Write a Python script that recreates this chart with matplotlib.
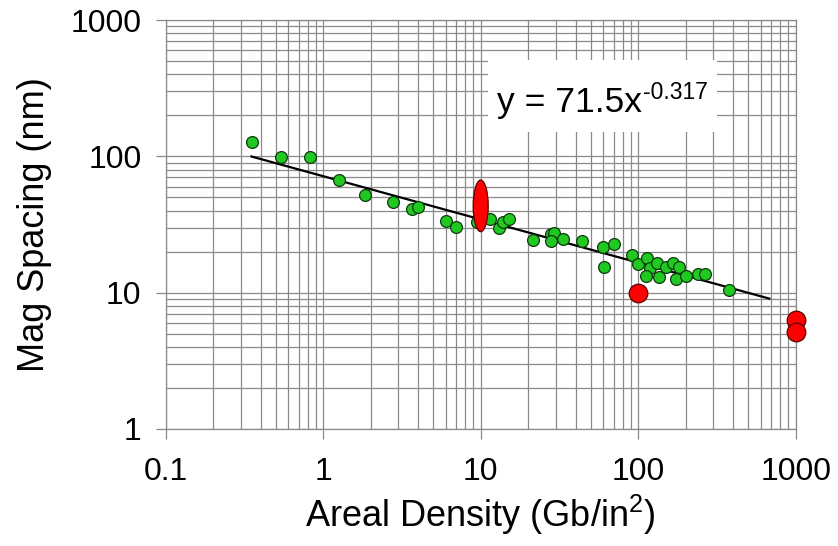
import matplotlib
matplotlib.use("Agg")
import matplotlib.pyplot as plt
import numpy as np
from matplotlib.patches import Ellipse, Rectangle
from matplotlib.transforms import ScaledTranslation

plt.rcParams['font.family'] = ['Liberation Sans', 'DejaVu Sans']
plt.rcParams['mathtext.fontset'] = 'custom'
plt.rcParams['mathtext.rm'] = 'Liberation Sans'
plt.rcParams['mathtext.default'] = 'regular'

# ---- data ----
green_x = [0.352, 0.537, 0.824, 1.26, 1.83, 2.79, 3.68, 4.02, 6.0, 6.97,
           9.44, 11.5, 13.1, 13.9, 15.1, 21.6, 27.8, 29.2, 27.9, 33.4,
           44.0, 59.6, 70.2, 60.7, 91.8, 99.3, 113, 119, 112, 131,
           135.5, 149.5, 167, 182, 174, 201, 241, 265, 376]
green_y = [128, 99.5, 99.5, 67, 52.4, 46, 40.9, 42.7, 33.6, 30.5,
           33.2, 34.6, 30.0, 33.2, 34.9, 24.4, 27.0, 27.3, 23.9, 24.6,
           24.1, 21.8, 22.6, 15.4, 18.9, 16.2, 17.9, 15.1, 13.3, 16.4,
           13.1, 15.5, 16.4, 15.4, 12.5, 13.3, 13.6, 13.6, 10.5]
red_x = [100, 1000, 1000]
red_y = [10, 6.3, 5.15]
range_x = 10
range_y = [28, 67]
fit_a = 71.5
fit_b = -0.317
fit_x_range = [0.35, 680]
eq_main = 'y = 71.5x'
eq_sup = '-0.317'
x_ticks = [0.1, 1, 10, 100, 1000]
x_tick_labels = ['0.1', '1', '10', '100', '1000']
y_ticks = [1, 10, 100, 1000]
y_tick_labels = ['1', '10', '100', '1000']

W, H = 838, 546
L, R, T, B = 165.7, 795.7, 20.0, 429.0
fig = plt.figure(figsize=(W / 100, H / 100), dpi=100)
ax = fig.add_axes([L / W, 1 - B / H, (R - L) / W, (B - T) / H])
ax.set_xscale('log')
ax.set_yscale('log')
ax.set_xlim(0.1, 1000)
ax.set_ylim(1, 1000)


def afx(px):
    return (px - L) / (R - L)


def afy(py):
    return (B - py) / (B - T)


gcol = '#8a8a8a'
ax.grid(True, which='both', color=gcol, linewidth=0.9, zorder=0)
ax.set_axisbelow(True)
for s in ax.spines.values():
    s.set_color(gcol)
    s.set_linewidth(0.9)
ax.set_xticks(x_ticks)
ax.set_xticklabels(x_tick_labels)
ax.set_yticks(y_ticks)
ax.set_yticklabels(y_tick_labels)
ax.tick_params(which='major', direction='out', length=7.5, width=0.9, color=gcol,
               labelsize=23)
ax.tick_params(axis='y', pad=10)
ax.tick_params(axis='x', pad=12.5)
ax.tick_params(which='minor', length=0)

# equation box
ax.add_patch(Rectangle((afx(488), afy(132)), afx(717) - afx(488), afy(60) - afy(132),
                       transform=ax.transAxes, facecolor='white', edgecolor='none', zorder=1))
t1 = ax.text(afx(497), afy(111.7), eq_main, transform=ax.transAxes, ha='left',
             va='baseline', fontsize=25.5, zorder=2)
ax.annotate(eq_sup, xy=(1, 1), xycoords=t1, xytext=(0.7, 3.6),
            textcoords='offset points', ha='left', va='top', fontsize=16.5, zorder=2)

# fit line
fx = np.array(fit_x_range)
ax.plot(fx, fit_a * fx ** fit_b, color='black', lw=1.6, zorder=3)

ax.scatter(green_x, green_y, s=8.5 ** 2, color='#22c822', edgecolor='#0b3a0b',
           linewidth=0.9, zorder=4)
ax.scatter(red_x, red_y, s=13.4 ** 2, color='#ff0000', edgecolor='#5a0000',
           linewidth=0.9, zorder=5, clip_on=False)

# range ellipse
p_lo = ax.transData.transform((range_x, range_y[0]))
p_hi = ax.transData.transform((range_x, range_y[1]))
h_in = (p_hi[1] - p_lo[1]) / fig.dpi
yc = 10 ** ((np.log10(range_y[0]) + np.log10(range_y[1])) / 2)
tr = fig.dpi_scale_trans + ScaledTranslation(range_x, yc, ax.transData)
ax.add_patch(Ellipse((0, 0), width=0.15, height=h_in, transform=tr,
                     facecolor='#ff0000', edgecolor='#5a0000', linewidth=0.9, zorder=6))

ax.set_xlabel('Areal Density (Gb/in$^2$)', fontsize=26, labelpad=4)
ax.set_ylabel('Mag Spacing (nm)', fontsize=26, labelpad=13)

fig.savefig('out.png', dpi=100, facecolor='white')
